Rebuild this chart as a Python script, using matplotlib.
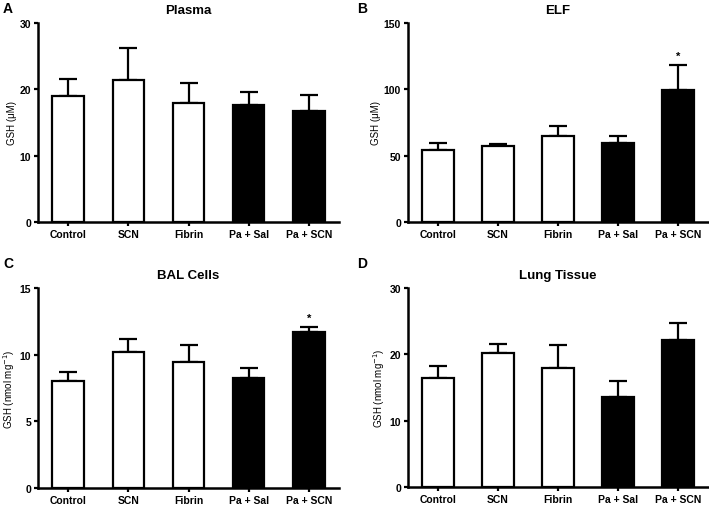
import matplotlib
matplotlib.use("Agg")
import matplotlib.pyplot as plt

plt.rcParams['font.family'] = ['Liberation Sans', 'DejaVu Sans']

categories = ["Control", "SCN", "Fibrin", "Pa + Sal", "Pa + SCN"]
bar_colors = ["white", "white", "white", "black", "black"]

plasma_mean = [19.0, 21.4, 18.0, 17.7, 16.7]
plasma_err = [2.5, 4.8, 3.0, 1.9, 2.5]

elf_mean = [54.5, 57.2, 65.0, 59.5, 99.8]
elf_err = [5.0, 1.3, 7.6, 5.0, 18.9]

bal_mean = [8.03, 10.23, 9.46, 8.23, 11.69]
bal_err = [0.70, 0.91, 1.23, 0.80, 0.40]

lung_mean = [16.5, 20.27, 18.0, 13.5, 22.1]
lung_err = [1.8, 1.3, 3.47, 2.55, 2.6]

panels = [
    ("A", "Plasma", plasma_mean, plasma_err, 30, [0, 10, 20, 30], "GSH (μM)", [None]*5),
    ("B", "ELF", elf_mean, elf_err, 150, [0, 50, 100, 150], "GSH (μM)", [None, None, None, None, "*"]),
    ("C", "BAL Cells", bal_mean, bal_err, 15, [0, 5, 10, 15], "GSH (nmol mg$^{-1}$)", [None, None, None, None, "*"]),
    ("D", "Lung Tissue", lung_mean, lung_err, 30, [0, 10, 20, 30], "GSH (nmol mg$^{-1}$)", [None]*5),
]

W, H = 709, 506
fig = plt.figure(figsize=(W/100, H/100), dpi=100)

boxes = [
    (38, 339, 24, 223),
    (408, 708, 24, 223),
    (38, 339, 289, 489),
    (408, 708, 289, 488),
]
letter_pos = [(3, 9), (357, 9), (3, 264), (357, 264)]

for (letter, title, means, errs, ymax, yt, ylab, stars), (l, r, t, b), (lx, ly) in zip(panels, boxes, letter_pos):
    ax = fig.add_axes([l/W, 1 - b/H, (r-l)/W, (b-t)/H])
    x = list(range(len(categories)))
    ax.bar(x, means, width=0.52, color=bar_colors, edgecolor="black", linewidth=1.6, zorder=2)
    ax.errorbar(x, means, yerr=[[0]*5, errs], fmt="none", ecolor="black",
                elinewidth=1.6, capsize=6.5, capthick=1.6, zorder=1)
    for xi, m, e, s in zip(x, means, errs, stars):
        if s:
            ax.text(xi, m + e + ymax*0.02, s, ha="center", va="bottom", fontsize=8, fontweight="bold")
    ax.set_xlim(-0.5, 4.5)
    ax.set_ylim(0, ymax)
    ax.set_yticks(yt)
    ax.set_yticklabels([str(v) for v in yt], fontsize=7.5, fontweight="bold")
    ax.set_xticks(x)
    ax.set_xticklabels(categories, fontsize=7.5, fontweight="bold")
    ax.tick_params(axis="both", direction="out", length=3, width=1.6, pad=2)
    ax.spines["top"].set_visible(False)
    ax.spines["right"].set_visible(False)
    ax.spines["left"].set_linewidth(1.8)
    ax.spines["bottom"].set_linewidth(1.8)
    ax.set_ylabel(ylab, fontsize=7, labelpad=2)
    ax.set_title(title, fontsize=9.5, fontweight="bold", pad=7)
    fig.text(lx/W, 1 - ly/H, letter, fontsize=10, fontweight="bold", ha="left", va="center")

fig.savefig("out.png", dpi=100)
